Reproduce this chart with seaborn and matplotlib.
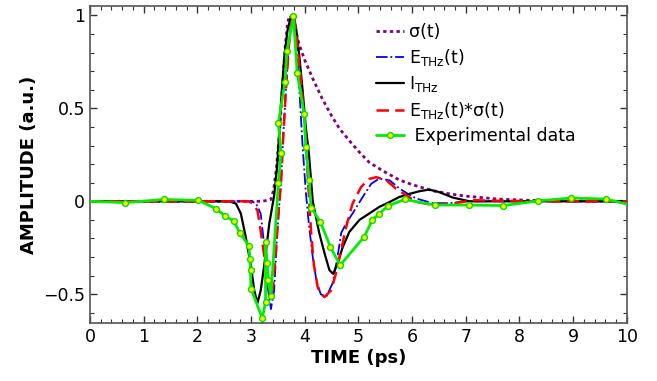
import numpy as np
import pandas as pd
import seaborn as sns
import matplotlib
matplotlib.use('Agg')
import matplotlib.pyplot as plt
from matplotlib.ticker import MultipleLocator, FuncFormatter

# sigma(t) - purple dotted
t_sig = [0, 1, 2, 2.8, 3.2, 3.3, 3.37, 3.42, 3.47, 3.52, 3.56, 3.60, 3.64, 3.68,
         3.72, 3.76, 3.82, 3.9, 4.0, 4.15, 4.33, 4.5, 4.65, 4.85, 5.0, 5.2, 5.45,
         5.76, 6.0, 6.38, 6.7, 7.0, 7.6, 8.2, 9.0, 10]
sig = [0, 0, 0, 0, 0.0, 0.005, 0.01, 0.06, 0.17, 0.33, 0.50, 0.68, 0.84, 0.96,
       1.0, 0.99, 0.93, 0.84, 0.76, 0.66, 0.55, 0.46, 0.39, 0.32, 0.27, 0.21, 0.165,
       0.115, 0.09, 0.057, 0.04, 0.028, 0.012, 0.005, 0.002, 0]

# E_THz(t) - blue dash-dot
t_e = [0, 1, 2, 3.0, 3.09, 3.18, 3.25, 3.31, 3.37, 3.43, 3.49, 3.56, 3.60, 3.65,
       3.70, 3.76, 3.80, 3.84, 3.90, 3.96, 4.02, 4.08, 4.15, 4.22, 4.30, 4.40, 4.52,
       4.61, 4.68, 4.77, 4.89, 5.08, 5.24, 5.39, 5.58, 5.76, 5.95, 6.08, 6.38, 6.7,
       7.0, 8.0, 9.0, 10]
e_thz = [0, 0, 0, 0, -0.01, -0.066, -0.25, -0.46, -0.58, -0.48, -0.16, 0.11, 0.35,
         0.60, 0.83, 0.98, 1.0, 0.90, 0.60, 0.30, 0.05, -0.13, -0.30, -0.43, -0.50,
         -0.515, -0.44, -0.30, -0.17, -0.12, -0.066, 0.023, 0.095, 0.122, 0.113,
         0.07, 0.035, 0.015, -0.01, -0.01, 0.0, 0.0, 0.0, 0.0]

# I_THz - black solid
t_i = [0, 1, 2, 2.6, 2.72, 2.81, 2.90, 3.0, 3.06, 3.12, 3.18, 3.25, 3.34, 3.43,
       3.49, 3.53, 3.57, 3.62, 3.68, 3.74, 3.79, 3.84, 3.90, 3.96, 4.02, 4.08, 4.15,
       4.27, 4.37, 4.46, 4.53, 4.61, 4.71, 4.83, 5.02, 5.2, 5.39, 5.58, 5.76, 5.95,
       6.15, 6.32, 6.5, 6.76, 7.07, 8.0, 9.0, 10]
i_thz = [0, 0, 0, 0, -0.013, -0.066, -0.19, -0.35, -0.48, -0.547, -0.48, -0.335,
         -0.12, 0.03, 0.2, 0.4, 0.58, 0.78, 0.92, 0.99, 1.0, 0.93, 0.78, 0.6, 0.4,
         0.25, 0.0, -0.17, -0.28, -0.37, -0.39, -0.335, -0.245, -0.165, -0.10, -0.066,
         -0.03, -0.004, 0.023, 0.04, 0.055, 0.063, 0.05, 0.02, 0.0, 0.0, 0.0, 0.0]

# E_THz(t)*sigma(t) - red dashed
t_es = [0, 1, 2, 2.95, 3.03, 3.12, 3.18, 3.25, 3.31, 3.36, 3.41, 3.46, 3.51, 3.56,
        3.60, 3.65, 3.70, 3.75, 3.80, 3.86, 3.93, 3.99, 4.04, 4.08, 4.12, 4.17,
        4.24, 4.30, 4.37, 4.49, 4.58, 4.68, 4.77, 4.89, 5.05, 5.2, 5.33, 5.52, 5.70,
        5.89, 6.08, 6.39, 6.75, 7.13, 7.6, 8.5, 10]
e_sig = [0, 0, 0, 0, -0.01, -0.05, -0.16, -0.30, -0.42, -0.515, -0.46, -0.28,
         -0.066, 0.11, 0.35, 0.60, 0.82, 0.96, 1.0, 0.85, 0.65, 0.45, 0.22, 0.02,
         -0.17, -0.34, -0.46, -0.50, -0.515, -0.48, -0.39, -0.26, -0.14, -0.013,
         0.077, 0.12, 0.13, 0.113, 0.068, 0.032, -0.003, -0.02, -0.013, 0.006, 0.003,
         0.0, 0.0]

# Experimental data - green with yellow markers (measured order)
t_exp = [0, 0.66, 1.38, 2.02, 2.35, 2.52, 2.68, 2.79, 2.96, 2.98, 2.99, 3.0,
         3.21, 3.27, 3.27, 3.30, 3.32, 3.37, 3.51, 3.56, 3.51, 3.63, 3.67, 3.79,
         3.86, 3.99, 4.02, 4.08, 4.12, 4.29, 4.48, 4.66, 5.11, 5.26, 5.39, 5.55,
         5.86, 6.43, 7.06, 7.70, 8.34, 8.97, 9.61, 10.0]
a_exp = [0, -0.007, 0.01, 0.005, -0.04, -0.08, -0.106, -0.17, -0.24, -0.31, -0.37,
         -0.47, -0.63, -0.54, -0.22, -0.33, -0.425, -0.51, 0.10, 0.26, 0.42, 0.64,
         0.81, 0.995, 0.69, 0.47, 0.29, 0.117, -0.034, -0.11, -0.246, -0.344, -0.19,
         -0.10, -0.066, -0.025, 0.01, -0.02, -0.02, -0.023, 0.002, 0.018, 0.012,
         -0.015]

sns.set_style('ticks')
plt.rcParams['font.family'] = ['DejaVu Sans']
plt.rcParams['mathtext.default'] = 'regular'
plt.rcParams['text.color'] = 'black'
plt.rcParams['axes.labelcolor'] = 'black'
plt.rcParams['xtick.color'] = 'black'
plt.rcParams['ytick.color'] = 'black'

fig = plt.figure(figsize=(6.57, 3.81), dpi=100)
ax = fig.add_axes([0.137, 0.152, 0.817, 0.832])

sns.lineplot(x=t_sig, y=sig, ax=ax, color='#800080', linestyle=(0, (1.2, 1.2)),
             linewidth=2, label='σ(t)', sort=False, estimator=None)
sns.lineplot(x=t_e, y=e_thz, ax=ax, color='#0000ff', linestyle='-.', linewidth=1.3,
             label='E$_{THz}$(t)', sort=False, estimator=None)
sns.lineplot(x=t_i, y=i_thz, ax=ax, color='black', linestyle='-', linewidth=1.6,
             label='I$_{THz}$', sort=False, estimator=None)
sns.lineplot(x=t_es, y=e_sig, ax=ax, color='#ff0000', linestyle=(0, (5, 2.5)),
             linewidth=1.8, label='E$_{THz}$(t)*σ(t)', sort=False, estimator=None)
sns.lineplot(x=t_exp, y=a_exp, ax=ax, color='#00ee00', linewidth=2.0, marker='o',
             markersize=4.2, markerfacecolor='#ffff00', markeredgecolor='#00dd00',
             markeredgewidth=1, markevery=slice(1, -1), label=' Experimental data',
             sort=False, estimator=None, zorder=5)

ax.set_xlim(0, 10)
ax.set_ylim(-0.655, 1.05)
ax.xaxis.set_major_locator(MultipleLocator(1))
ax.xaxis.set_minor_locator(MultipleLocator(0.2))
ax.yaxis.set_major_locator(MultipleLocator(0.5))
ax.yaxis.set_minor_locator(MultipleLocator(0.1))
ax.yaxis.set_major_formatter(FuncFormatter(lambda v, p: ('%g' % v).replace('-', '\u2212')))
ax.tick_params(which='both', direction='in', top=True, right=True, labelsize=12.5,
               color='#333333', labelcolor='black')
ax.tick_params(which='major', length=5, width=1)
ax.tick_params(which='minor', length=3, width=0.8)
for s in ax.spines.values():
    s.set_color('#555555')
    s.set_linewidth(1.2)

ax.set_xlabel('TIME (ps)', fontsize=13, fontweight='bold', labelpad=2)
ax.set_ylabel('AMPLITUDE (a.u.)', fontsize=13, fontweight='bold', labelpad=4)

ax.legend(loc='upper left', bbox_to_anchor=(0.51, 0.985), frameon=False,
          fontsize=12.5, handlelength=1.6, handletextpad=0.3, labelspacing=0.35,
          borderpad=0.2)

fig.savefig('out.png', dpi=100)
